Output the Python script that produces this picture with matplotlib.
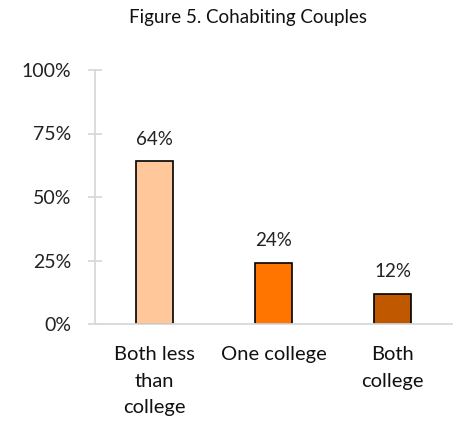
import matplotlib
matplotlib.use("Agg")
import matplotlib.pyplot as plt

categories = ["Both less\nthan\ncollege", "One college", "Both\ncollege"]
values = [64, 24, 12]
labels = ["64%", "24%", "12%"]
colors = ["#FFC79A", "#FF7500", "#C05800"]
yticks = [0, 25, 50, 75, 100]
ytick_labels = ["0%", "25%", "50%", "75%", "100%"]
title = "Figure 5. Cohabiting Couples"

plt.rcParams['font.family'] = ['Lato', 'DejaVu Sans']
W, H = 458, 428
fig = plt.figure(figsize=(W/100, H/100), dpi=100)
ax = fig.add_axes([95/W, 104/H, 357/W, 254/H])

x = range(len(categories))
ax.bar(x, values, width=0.31, color=colors, edgecolor="black", linewidth=1.2, zorder=3)
for xi, v, l in zip(x, values, labels):
    ax.annotate(l, (xi, v), xytext=(0, 10), textcoords="offset points",
                ha="center", va="bottom", fontsize=13.5, color="#222222")

ax.set_xlim(-0.5, 2.5)
ax.set_ylim(0, 100)
ax.set_yticks(yticks)
ax.set_yticklabels(ytick_labels, fontsize=14, color="#222222")
ax.set_xticks(list(x))
ax.set_xticklabels(categories, fontsize=14.5, color="#111111", linespacing=1.68)
ax.tick_params(axis="y", direction="inout", length=10, width=1.3, color="#D9D9D9", pad=12)
ax.tick_params(axis="x", length=0, pad=16)
for s in ["top", "right"]:
    ax.spines[s].set_visible(False)
ax.spines["left"].set_color("#D9D9D9")
ax.spines["left"].set_linewidth(1.3)
ax.spines["bottom"].set_color("#D9D9D9")
ax.spines["bottom"].set_linewidth(1.3)
ax.spines["bottom"].set_zorder(4)

fig.text(248/W, 1 - 18/H, title, ha="center", va="center", fontsize=13.5, color="#111111")
fig.savefig("out.png", dpi=100)
